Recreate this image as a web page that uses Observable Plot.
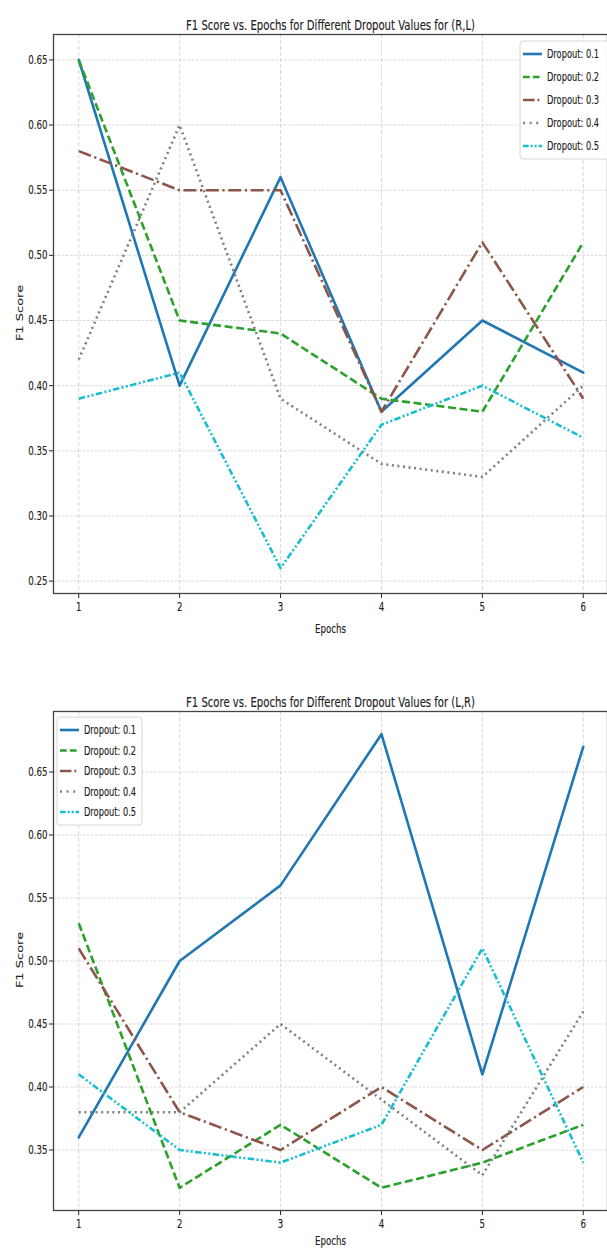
<!DOCTYPE html>
<html><head><meta charset="utf-8">
<script src="https://cdn.jsdelivr.net/npm/d3@7"></script>
<script src="https://cdn.jsdelivr.net/npm/@observablehq/plot@0.6"></script>
<style>
html,body{margin:0;padding:0;background:#fff;}
#root{width:607px;height:1252px;overflow:hidden;position:relative;}
#root svg{display:block;}
</style></head><body><div id="root"></div>
<script>
// ---- data ----
const epochs = [1, 2, 3, 4, 5, 6];
const dropoutLabels = ["Dropout: 0.1", "Dropout: 0.2", "Dropout: 0.3", "Dropout: 0.4", "Dropout: 0.5"];

const titleRL = "F1 Score vs. Epochs for Different Dropout Values for (R,L)";
const rlDrop01 = [0.65, 0.40, 0.56, 0.38, 0.45, 0.41];
const rlDrop02 = [0.65, 0.45, 0.44, 0.39, 0.38, 0.51];
const rlDrop03 = [0.58, 0.55, 0.55, 0.38, 0.51, 0.39];
const rlDrop04 = [0.42, 0.60, 0.39, 0.34, 0.33, 0.40];
const rlDrop05 = [0.39, 0.41, 0.26, 0.37, 0.40, 0.36];
const rlYTicks = [0.25, 0.30, 0.35, 0.40, 0.45, 0.50, 0.55, 0.60, 0.65];

const titleLR = "F1 Score vs. Epochs for Different Dropout Values for (L,R)";
const lrDrop01 = [0.36, 0.50, 0.56, 0.68, 0.41, 0.67];
const lrDrop02 = [0.53, 0.32, 0.37, 0.32, 0.34, 0.37];
const lrDrop03 = [0.51, 0.38, 0.35, 0.40, 0.35, 0.40];
const lrDrop04 = [0.38, 0.38, 0.45, 0.39, 0.33, 0.46];
const lrDrop05 = [0.41, 0.35, 0.34, 0.37, 0.51, 0.34];
const lrYTicks = [0.35, 0.40, 0.45, 0.50, 0.55, 0.60, 0.65];

const xLabel = "Epochs";
const yLabel = "F1 Score";

// ---- styles ----
const seriesColors = ["#1f77b4", "#2ca02c", "#8c564b", "#7f7f7f", "#17becf"];
const seriesDashes = [null, "8,3.6", "13,3.6,2.2,3.6", "2,3.6", "6.5,2.4,2,2.4,2,2.4"];
const legendDashes = [null, "6.7,3.2", "11.5,3,1.8,3", "2,4.6", "5.6,2,2,2,2,2"];
const SQUEEZE = 0.72;
const FONT = "'DejaVu Sans', sans-serif";
const TEXT_STROKE = 0.15;

function buildRows(series) {
  const rows = [];
  series.forEach((vals, i) => vals.forEach((v, j) => rows.push({epoch: epochs[j], score: v, series: dropoutLabels[i]})));
  return rows;
}

function makeChart(cfg) {
  const rows = buildRows(cfg.series);
  const marks = [
    Plot.gridX(epochs, {stroke: "#cfcfcf", strokeOpacity: 1, strokeWidth: 0.8, strokeDasharray: "4,2"}),
    Plot.gridY(cfg.yTicks, {stroke: "#cfcfcf", strokeOpacity: 1, strokeWidth: 0.8, strokeDasharray: "2.8,1.4"}),
    ...dropoutLabels.map((lab, i) => Plot.line(rows.filter(r => r.series === lab), {
      x: "epoch", y: "score", stroke: seriesColors[i], strokeWidth: 2.6,
      strokeDasharray: seriesDashes[i], strokeLinecap: seriesDashes[i] ? "butt" : "round", strokeLinejoin: "round"
    })),
    Plot.axisX(epochs, {tickSize: 5, tickPadding: 4, label: null, fontSize: 12}),
    Plot.axisY(cfg.yTicks, {tickSize: 4, tickPadding: 2, tickFormat: ".2f", label: null, fontSize: 12}),
    Plot.frame({stroke: "#444", strokeWidth: 1.3}),
    Plot.text([cfg.title], {frameAnchor: "top", dy: -14, fontSize: 14, fill: "#222"}),
    Plot.text([xLabel], {frameAnchor: "bottom", dy: cfg.xLabelDy, fontSize: 12, fill: "#222"})
  ];
  const svg = Plot.plot({
    width: 607,
    height: cfg.height,
    marginTop: cfg.marginTop,
    marginBottom: cfg.marginBottom,
    marginLeft: 53,
    marginRight: 0,
    style: {fontFamily: FONT, fontSize: "12px", color: "#222", background: "white", overflow: "visible"},
    x: {domain: [0.75, 6.25], range: [53, 608]},
    y: {domain: cfg.yDomain},
    marks
  });
  document.getElementById("root").appendChild(svg);
  return svg;
}

function squeeze(svg) {
  svg.querySelectorAll("text").forEach(t => {
    const len = t.getComputedTextLength();
    if (len > 0) {
      t.setAttribute("textLength", (len * SQUEEZE).toFixed(2));
      t.setAttribute("lengthAdjust", "spacingAndGlyphs");
      t.setAttribute("stroke", "#222");
      t.setAttribute("stroke-width", TEXT_STROKE);
    }
  });
}

function addLegend(svg, lg) {
  const g = d3.select(svg).append("g").attr("font-family", FONT).attr("font-size", 11.5).attr("text-anchor", "start");
  g.append("rect").attr("x", lg.x).attr("y", lg.y).attr("width", lg.w).attr("height", lg.h)
    .attr("rx", 3).attr("fill", "white").attr("fill-opacity", 0.85).attr("stroke", "#d6d6d6").attr("stroke-width", 1);
  dropoutLabels.forEach((lab, i) => {
    const yy = lg.y + lg.first + i * lg.step;
    g.append("line").attr("x1", lg.x + 3).attr("x2", lg.x + 22).attr("y1", yy).attr("y2", yy)
      .attr("stroke", seriesColors[i]).attr("stroke-width", 2.6)
      .attr("stroke-dasharray", legendDashes[i]).attr("stroke-linecap", "butt");
    g.append("g").attr("transform", `translate(${lg.x + 27},${yy}) scale(${SQUEEZE},1)`)
      .append("text").attr("x", 0).attr("y", 0).attr("dy", "0.35em")
      .attr("fill", "#222").attr("stroke", "#222").attr("stroke-width", TEXT_STROKE).text(lab);
  });
}

function addYLabel(svg, cy) {
  d3.select(svg).append("text")
    .attr("transform", `translate(20,${cy}) rotate(-90) scale(1,0.72)`)
    .attr("text-anchor", "middle").attr("dy", "0.35em")
    .attr("font-family", FONT).attr("font-size", 13).attr("fill", "#222")
    .attr("stroke", "#222").attr("stroke-width", TEXT_STROKE)
    .text(yLabel);
}

const svg1 = makeChart({
  title: titleRL, series: [rlDrop01, rlDrop02, rlDrop03, rlDrop04, rlDrop05],
  yTicks: rlYTicks, yDomain: [0.2405, 0.6695], height: 655, marginTop: 34, marginBottom: 62, xLabelDy: 39
});
squeeze(svg1);
addLegend(svg1, {x: 520, y: 41, w: 100, h: 118, first: 13, step: 23});
addYLabel(svg1, 313);

const svg2 = makeChart({
  title: titleLR, series: [lrDrop01, lrDrop02, lrDrop03, lrDrop04, lrDrop05],
  yTicks: lrYTicks, yDomain: [0.302, 0.698], height: 597, marginTop: 56, marginBottom: 42, xLabelDy: 34
});
squeeze(svg2);
addLegend(svg2, {x: 57, y: 62, w: 85, h: 108, first: 13, step: 20.5});
addYLabel(svg2, 305);
</script>
</body></html>
